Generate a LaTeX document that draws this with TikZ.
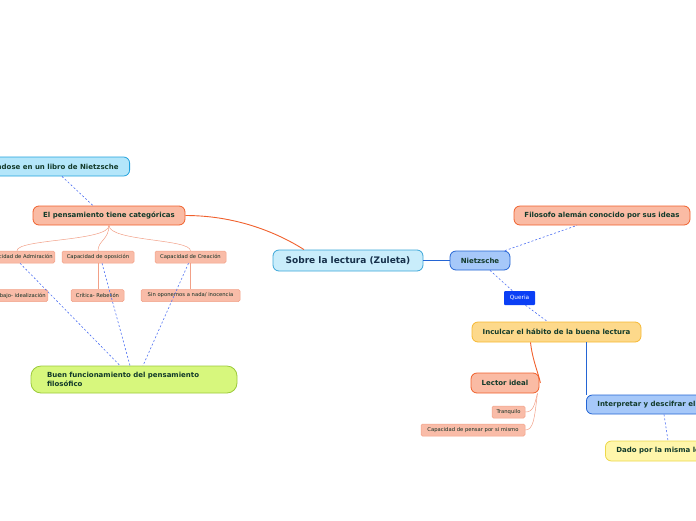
\documentclass[tikz,border=0pt]{standalone}
\usepackage{fontspec}
\setmainfont{DejaVu Sans}
\usepackage{tikz}
\usetikzlibrary{positioning,calc}
\definecolor{mmink}{HTML}{123A2A}
\definecolor{mmnavy}{HTML}{16304A}
\definecolor{mmsalmon}{HTML}{FABBA4}
\definecolor{mmsalmonrule}{HTML}{F0602C}
\definecolor{mmleaf}{HTML}{F9BCA8}
\definecolor{mmleafrule}{HTML}{F2A087}
\definecolor{mmsky}{HTML}{C9EDFB}
\definecolor{mmskyrule}{HTML}{3AA6D8}
\definecolor{mmcyan}{HTML}{B4E6FA}
\definecolor{mmcyanrule}{HTML}{22A2DD}
\definecolor{mmblue}{HTML}{A6C8F9}
\definecolor{mmbluerule}{HTML}{2465D4}
\definecolor{mmtag}{HTML}{0B3FF5}
\definecolor{mmgold}{HTML}{FDD98B}
\definecolor{mmgoldrule}{HTML}{F6B833}
\definecolor{mmlemon}{HTML}{FFF6AB}
\definecolor{mmlemonrule}{HTML}{EDD84A}
\definecolor{mmlime}{HTML}{D7F77D}
\definecolor{mmlimerule}{HTML}{9CCA3B}
\definecolor{mmdash}{HTML}{4D6FF2}

\begin{document}
\begin{tikzpicture}[x=1pt, y=-1pt, font=\fontsize{7}{8.4}\selectfont\bfseries, text=mmink,
  topic/.style={draw, line width=0.8pt, rounded corners=6pt, minimum height=19pt, inner sep=2pt, anchor=center},
  red/.style={topic, fill=mmsalmon, draw=mmsalmonrule},
  sky/.style={topic, fill=mmcyan, draw=mmcyanrule},
  blu/.style={topic, fill=mmblue, draw=mmbluerule},
  gold/.style={topic, fill=mmgold, draw=mmgoldrule},
  lemon/.style={topic, fill=mmlemon, draw=mmlemonrule},
  leaf/.style={draw=mmleafrule, fill=mmleaf, line width=0.5pt, rounded corners=1.5pt, minimum height=12pt, inner sep=2pt,
    font=\fontsize{5.25}{6.3}\selectfont, text=mmink!80!black},
  tag/.style={fill=mmtag, rounded corners=1pt, minimum height=14pt, inner sep=2pt, text=white, font=\fontsize{5.8}{6.8}\selectfont},
  dotlink/.style={mmdash, line width=0.6pt, dash pattern=on 2pt off 2pt},
  hot/.style={mmsalmonrule, line width=0.9pt},
  cold/.style={mmbluerule, line width=0.9pt},
  twig/.style={mmleafrule, line width=0.5pt}]
  \useasboundingbox (0,0) rectangle (696,520);
  \clip (0,0) rectangle (696,520);
  % centre and right branch
  \node[topic, fill=mmsky, draw=mmskyrule, minimum width=150pt, minimum height=21pt, text=mmnavy,
    font=\fontsize{9}{10.8}\selectfont\bfseries] (root) at (348,260.5) {Sobre la lectura (Zuleta)};
  \node[blu, minimum width=60pt] (nietz) at (480,260.5) {Nietzsche};
  \node[red, minimum width=176pt] (filo) at (602,215.5) {Filosofo alemán conocido por sus ideas};
  \node[tag, minimum width=31pt] (queria) at (519.5,298) {Queria};
  \node[gold, minimum width=169pt, minimum height=20pt] (incul) at (556.5,332) {Inculcar el hábito de la buena lectura};
  \node[red, minimum width=68pt, minimum height=20pt] (lector) at (505,383) {Lector ideal};
  \node[leaf, minimum width=33pt] (tranq) at (508.5,412) {Tranquilo};
  \node[leaf, minimum width=104pt] (pensar) at (473,430) {Capacidad de pensar por si mismo};
  \node[blu, anchor=west, inner xsep=11pt] (interp) at (586,404.5) {Interpretar y descifrar el texto};
  \node[lemon, anchor=west, inner xsep=11pt, minimum height=20pt] (dado) at (605,451) {Dado por la misma lectura};
  % left branch
  \node[sky, anchor=east, inner xsep=11pt] (basa) at (130,166.5) {Basándose en un libro de Nietzsche};
  \node[red, minimum width=152pt] (categ) at (109,215.5) {El pensamiento tiene categóricas};
  \node[leaf, anchor=east] (admi) at (55,257) {Capacidad de Admiración};
  \node[leaf, minimum width=72pt] (opos) at (98,257) {Capacidad de oposición};
  \node[leaf, minimum width=71pt] (crea) at (190.5,257) {Capacidad de Creación};
  \node[leaf, anchor=east] (ideal) at (48,295.5) {Trabajo- idealización};
  \node[leaf, minimum width=53pt] (criti) at (97.5,295.5) {Crítica- Rebelión};
  \node[leaf, minimum width=99pt] (inoc) at (190.5,295.5) {Sin oponernos a nada/ inocencia};
  \node[topic, fill=mmlime, draw=mmlimerule, rounded corners=10pt, text width=174pt, inner xsep=16pt, minimum height=27pt,
    align=left] (buen) at (134,379.5) {Buen funcionamiento del pensamiento\\filosófico};
  % connectors
  \coordinate (rootin) at ($(root.north)+(-44,0)$);
  \draw[hot] (categ.east) .. controls +(55,0) and +(-22,-14) .. (rootin);
  \draw[cold] (root.east) -- (nietz.west);
  \draw[dotlink] ($(nietz.north)+(25,0)$) -- ($(filo.south)+(-25,0)$);
  \draw[dotlink] ($(nietz.south)+(10,0)$) -- ($(queria.north)+(-7,0)$);
  \draw[dotlink] ($(queria.south)+(6,0)$) -- ($(incul.north)+(-9,0)$);
  \draw[hot] ($(incul.south)+(-26,0)$) .. controls +(2,18) and +(-2,-10) .. ($(lector.east)+(1,0)$);
  \draw[cold] ($(incul.south)+(29.5,0)$) -- (interp.north west);
  \draw[dotlink] ($(interp.south west)+(78,0)$) -- ($(dado.north west)+(63,0)$);
  \draw[twig] ($(lector.south east)+(-2,0)$) .. controls +(-3,12) and +(8,0) .. (tranq.east);
  \draw[twig] ($(lector.south east)+(-2,0)$) .. controls +(-3,26) and +(8,0) .. (pensar.east);
  \draw[dotlink] ($(basa.south east)+(-68,0)$) -- ($(categ.north)+(-16,0)$);
  \coordinate (admitop) at ($(admi.north east)+(-38,0)$);
  \draw[twig] (categ.south) .. controls +(0,16) and +(0,-12) .. (admitop);
  \draw[twig] (categ.south) .. controls +(0,14) and +(0,-10) .. (opos.north);
  \draw[twig] (categ.south) .. controls +(0,16) and +(0,-12) .. (crea.north);
  \draw[twig] ($(admi.south east)+(-39,0)$) -- ($(admi.south east)+(-39,0)$ |- ideal.north);
  \draw[twig] (opos.south) -- (opos.south |- criti.north);
  \draw[twig] (crea.south) -- (crea.south |- inoc.north);
  \draw[dotlink] ($(admi.south east)+(-35,0)$) -- ($(buen.north)+(-14,0)$);
  \draw[dotlink] ($(opos.south)+(4,0)$) -- ($(buen.north)+(-4,0)$);
  \draw[dotlink] ($(crea.south)+(-2,0)$) -- ($(buen.north)+(9,0)$);
\end{tikzpicture}
\end{document}
